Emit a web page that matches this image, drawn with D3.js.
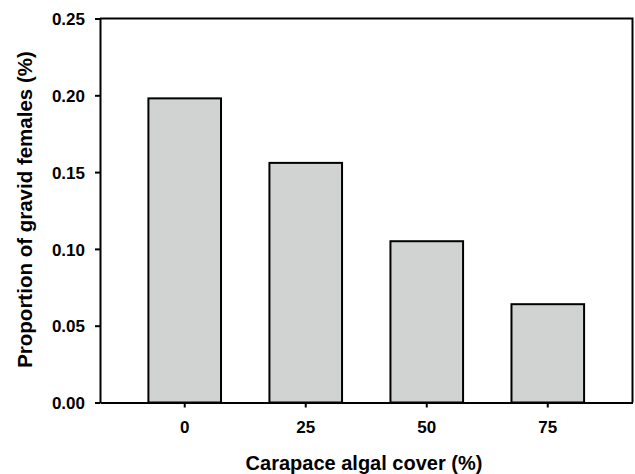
<!DOCTYPE html>
<html>
<head>
<meta charset="utf-8">
<script src="https://cdn.jsdelivr.net/npm/d3@7"></script>
<style>
    body { margin: 0; background: #fff; }
    text { font-family: "Liberation Sans", Arial, sans-serif; font-weight: bold; fill: #000; }
</style>
</head>
<body>
<svg id="chart" width="635" height="474"></svg>
<script>
const coverLevels = ["0", "25", "50", "75"];
const gravidProp = [0.198, 0.156, 0.105, 0.064];
const yTicks = [0.00, 0.05, 0.10, 0.15, 0.20, 0.25];

const plotL = 100, plotR = 632.5, plotT = 18.5, plotB = 402.5;

const svg = d3.select("#chart");

const x = d3.scaleBand()
    .domain(coverLevels)
    .range([plotL, plotR])
    .paddingInner(0.4)
    .paddingOuter(0.4);

const y = d3.scaleLinear()
    .domain([0, 0.25])
    .range([plotB, plotT]);

// bars
svg.append("g")
    .selectAll("rect")
    .data(coverLevels.map((c, i) => ({ c: c, v: gravidProp[i] })))
    .join("rect")
    .attr("x", d => x(d.c))
    .attr("y", d => y(d.v))
    .attr("width", x.bandwidth())
    .attr("height", d => y(0) - y(d.v))
    .attr("fill", "#d1d3d3")
    .attr("stroke", "#000")
    .attr("stroke-width", 2);

// frame top + right
svg.append("path")
    .attr("d", `M${plotL},${plotT}H${plotR}V${plotB}`)
    .attr("fill", "none")
    .attr("stroke", "#000")
    .attr("stroke-width", 2);

// y axis
const yAxis = svg.append("g")
    .attr("transform", `translate(${plotL},0)`)
    .call(d3.axisLeft(y)
        .tickValues(yTicks)
        .tickFormat(d3.format(".2f"))
        .tickSize(5)
        .tickPadding(10)
        .tickSizeOuter(0));
yAxis.select(".domain").attr("stroke-width", 2);
yAxis.selectAll(".tick line").attr("stroke-width", 2);
yAxis.selectAll(".tick text")
    .attr("font-size", 17)
    .attr("dy", "0.36em");

// x axis
const xAxis = svg.append("g")
    .attr("transform", `translate(0,${plotB})`)
    .call(d3.axisBottom(x)
        .tickSize(5)
        .tickPadding(13)
        .tickSizeOuter(0));
xAxis.select(".domain").attr("stroke-width", 2);
xAxis.selectAll(".tick line").attr("stroke-width", 2);
xAxis.selectAll(".tick text").attr("font-size", 17);

// titles
svg.append("text")
    .attr("x", 364)
    .attr("y", 470)
    .attr("text-anchor", "middle")
    .attr("font-size", 20)
    .text("Carapace algal cover (%)");

svg.append("text")
    .attr("transform", `translate(31.5,209.5) rotate(-90)`)
    .attr("text-anchor", "middle")
    .attr("font-size", 20.5)
    .text("Proportion of gravid females (%)");
</script>
</body>
</html>
